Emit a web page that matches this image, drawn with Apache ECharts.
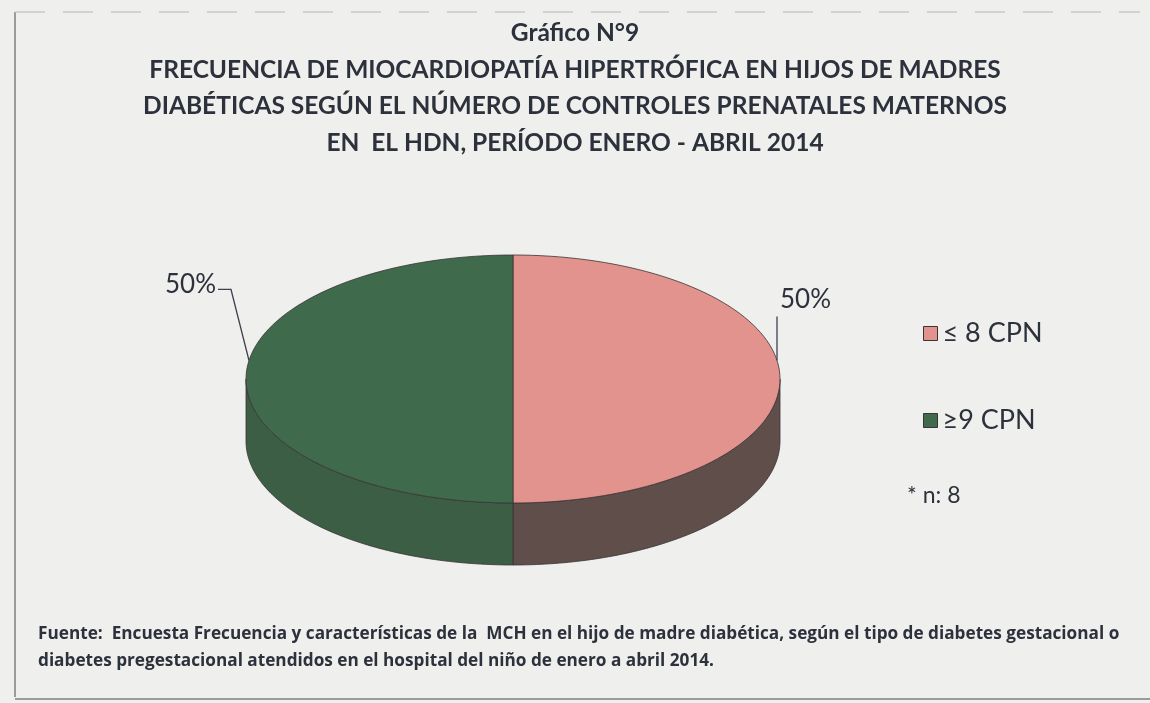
<!DOCTYPE html>
<html>
<head>
<meta charset="utf-8">
<script src="https://cdn.jsdelivr.net/npm/echarts@6/dist/echarts.min.js"></script>
<style>
html,body{margin:0;padding:0;background:#efefed;}
#chart{width:1150px;height:703px;}
</style>
</head>
<body>
<div id="chart"></div>
<script>
// ---- data ----
const categories = ['≤ 8 CPN', '≥9 CPN'];
const values = [4, 4];            // cases per group (n = 8)
const sampleNote = '* n: 8';
const titleLines = [
  'Gráfico N°9',
  'FRECUENCIA DE MIOCARDIOPATÍA HIPERTRÓFICA EN HIJOS DE MADRES',
  'DIABÉTICAS SEGÚN EL NÚMERO DE CONTROLES PRENATALES MATERNOS',
  'EN  EL HDN, PERÍODO ENERO - ABRIL 2014'
];
const sourceLines = [
  'Fuente:  Encuesta Frecuencia y características de la  MCH en el hijo de madre diabética, según el tipo de diabetes gestacional o',
  'diabetes pregestacional atendidos en el hospital del niño de enero a abril 2014.'
];

// ---- styles ----
const topColors = ['#e3938e', '#3f6b4c'];
const sideColors = ['#5f4e4a', '#3b5e45'];
const textColor = '#2c313b';
const FONT = 'Lato, "Open Sans", sans-serif';

const chart = echarts.init(document.getElementById('chart'));

// pie geometry (layout)
const geo = { cx: 513, cy: 379, rx: 267, ry: 124, depth: 62 };
const total = values.reduce((a, b) => a + b, 0);

function pt(theta, dy) {
  return [geo.cx + geo.rx * Math.sin(theta), geo.cy - geo.ry * Math.cos(theta) + (dy || 0)];
}

function makeRenderItem(idx) {
  return function (params, api) {
    const v = api.value(0);
    let before = 0;
    for (let k = 0; k < idx; k++) before += values[k];
    const a0 = before / total * Math.PI * 2;
    const a1 = (before + v) / total * Math.PI * 2;
    const N = 90;
    const children = [];
    // side wall (front half only)
    const s0 = Math.max(a0, Math.PI / 2), s1 = Math.min(a1, Math.PI * 1.5);
    if (s1 > s0) {
      const pts = [];
      for (let i = 0; i <= N; i++) pts.push(pt(s0 + (s1 - s0) * i / N, 0));
      for (let i = N; i >= 0; i--) pts.push(pt(s0 + (s1 - s0) * i / N, geo.depth));
      children.push({
        type: 'polygon', z2: 1,
        shape: { points: pts },
        style: { fill: sideColors[idx], stroke: '#3a3436', lineWidth: 0.8 }
      });
    }
    // top face
    const topPts = [[geo.cx, geo.cy]];
    for (let i = 0; i <= N; i++) topPts.push(pt(a0 + (a1 - a0) * i / N, 0));
    children.push({
      type: 'polygon', z2: 10,
      shape: { points: topPts },
      style: { fill: topColors[idx], stroke: '#3a3436', lineWidth: 0.8 }
    });
    // label with leader line
    const mid = (a0 + a1) / 2;
    const right = mid < Math.PI;
    const anchorTheta = right ? mid - 0.15 : mid + 0.15;
    const A = pt(anchorTheta, 0);
    const pctText = Math.round(v / total * 100) + '%';
    let linePts, tx, ty, align;
    if (right) {
      linePts = [A, [A[0], A[1] - 44]];
      tx = A[0] + 3; ty = A[1] - 61; align = 'left';
    } else {
      linePts = [A, [A[0] - 18, A[1] - 71], [A[0] - 31, A[1] - 71]];
      tx = A[0] - 33; ty = A[1] - 76; align = 'right';
    }
    children.push({
      type: 'polyline', z2: 12,
      shape: { points: linePts },
      style: { stroke: '#3d4250', lineWidth: 1.3, fill: null }
    });
    children.push({
      type: 'text', z2: 12,
      style: {
        x: tx, y: ty, text: pctText, align: align, verticalAlign: 'middle',
        fill: textColor, font: '400 26px ' + FONT
      }
    });
    return { type: 'group', children: children };
  };
}

const series = categories.map((name, i) => ({
  type: 'custom',
  name: name,
  coordinateSystem: 'none',
  itemStyle: { color: topColors[i] },
  data: [[values[i]]],
  renderItem: makeRenderItem(i),
  silent: true
}));

chart.setOption({
  backgroundColor: '#efefed',
  animation: false,
  legend: {
    orient: 'vertical',
    left: 918,
    top: 315,
    itemWidth: 14,
    itemHeight: 14,
    itemGap: 60,
    icon: 'rect',
    itemStyle: { borderColor: '#3a3436', borderWidth: 1 },
    textStyle: { fontFamily: FONT, fontSize: 27, lineHeight: 27, color: textColor },
    data: categories
  },
  series: series,
  graphic: [
    { type: 'line', shape: { x1: 15, y1: 12, x2: 15, y2: 697 }, style: { stroke: '#9b9b9b', lineWidth: 2 } },
    { type: 'line', shape: { x1: 15, y1: 12, x2: 1140, y2: 12 }, style: { stroke: '#c9c9cc', lineWidth: 1.5, lineDash: [30, 18] } },
    { type: 'line', shape: { x1: 15, y1: 699, x2: 1150, y2: 699 }, style: { stroke: '#9b9b9b', lineWidth: 2 } },
    {
      type: 'text', x: 575, y: 15,
      style: {
        text: titleLines.join('\n'), align: 'center', verticalAlign: 'top',
        font: 'bold 24.5px ' + FONT, lineHeight: 36.5, fill: textColor
      }
    },
    {
      type: 'text', x: 907, y: 484,
      style: { text: sampleNote, font: '400 23px ' + FONT, fill: textColor }
    },
    {
      type: 'text', x: 38, y: 621,
      style: { text: sourceLines.join('\n'), font: 'bold 17.2px "Open Sans", Lato, sans-serif', lineHeight: 27, fill: textColor }
    }
  ]
});
</script>
</body>
</html>
